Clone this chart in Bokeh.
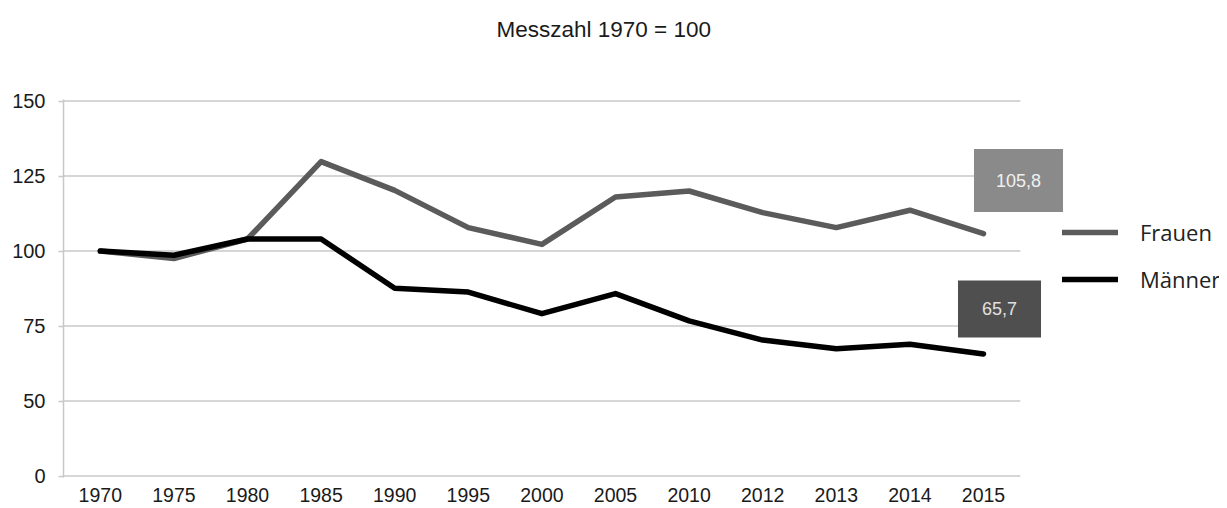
from bokeh.plotting import figure
from bokeh.models import Range1d, FixedTicker, Legend, LegendItem, ColumnDataSource, Title
from bokeh.embed import file_html
from bokeh.resources import INLINE
from bokeh.core.properties import value

# ---- data ----
years = ["1970", "1975", "1980", "1985", "1990", "1995", "2000",
         "2005", "2010", "2012", "2013", "2014", "2015"]
frauen = [100.0, 97.5, 104.0, 129.8, 120.2, 107.8, 102.2,
          118.0, 120.0, 112.8, 107.8, 113.6, 105.8]
maenner = [100.0, 98.6, 104.0, 104.0, 87.6, 86.3, 79.1,
           85.8, 76.7, 70.3, 67.4, 68.9, 65.7]
y_ticks = [25, 50, 75, 100, 125, 150]
y_tick_labels = ["0", "50", "75", "100", "125", "150"]
last_labels = ["105,8", "65,7"]
title_text = "Messzahl 1970 = 100"

xs = list(range(len(years)))
FONT = "Liberation Sans"

p = figure(
    frame_width=1156, frame_height=378,
    min_border_left=63, min_border_right=0, min_border_top=99, min_border_bottom=23,
    x_range=Range1d(-0.5, -0.5 + 1156 / 73.6),
    y_range=Range1d(24.5, 150.5),
    output_backend="svg", toolbar_location=None,
    background_fill_color="white", border_fill_color="white",
)
p.outline_line_color = None
p.grid.visible = False

# spacer between frame and title (empty-looking title)
p.add_layout(Title(text=" ", text_font_size="1px", standoff=37), "above")

# title
p.title.text = title_text
p.title.text_font = FONT
p.title.text_font_size = "22.5px"
p.title.text_font_style = "normal"
p.title.text_color = "#1a1a1a"
p.title.align = "left"
p.title.vertical_align = "top"
p.title.offset = 433
p.title.standoff = 31

# gridlines (incl. baseline)
p.segment(x0=[-0.5] * len(y_ticks), x1=[len(years) - 0.5] * len(y_ticks),
          y0=y_ticks, y1=y_ticks, line_color="#c8c8c8", line_width=1.5)

# axes
ya = p.yaxis[0]
ya.ticker = FixedTicker(ticks=y_ticks)
ya.major_label_overrides = {t: l for t, l in zip(y_ticks, y_tick_labels)}
ya.axis_line_color = "#c8c8c8"
ya.axis_line_width = 1.5
ya.major_tick_line_color = "#c8c8c8"
ya.major_tick_line_width = 1.5
ya.major_tick_out = 5
ya.major_tick_in = 0
ya.minor_tick_line_color = None
ya.major_label_standoff = 13
ya.major_label_text_font = FONT
ya.major_label_text_font_size = "20px"
ya.major_label_text_color = "#1a1a1a"

xa = p.xaxis[0]
xa.ticker = FixedTicker(ticks=xs)
xa.major_label_overrides = {i: y for i, y in zip(xs, years)}
xa.axis_line_color = None
xa.major_tick_line_color = None
xa.minor_tick_line_color = None
xa.major_label_standoff = 4
xa.major_label_text_font = FONT
xa.major_label_text_font_size = "19.5px"
xa.major_label_text_color = "#1a1a1a"

# lines
src = ColumnDataSource(dict(x=xs, f=frauen, m=maenner))
rf = p.line("x", "f", source=src, line_color="#5b5b5b", line_width=5.5,
            line_cap="round", line_join="round")
rm = p.line("x", "m", source=src, line_color="#000000", line_width=5.5,
            line_cap="round", line_join="round")

# value boxes at the last point
last = len(years) - 1
p.text(x=[last], y=[frauen[last]], text=[last_labels[0]],
       x_offset=35, y_offset=-53,
       text_font=value(FONT), text_font_size="18px", text_color="#f0f0f0",
       text_align="center", text_baseline="middle",
       background_fill_color="#8a8a8a", padding=(22, 25))
p.text(x=[last], y=[maenner[last]], text=[last_labels[1]],
       x_offset=16, y_offset=-45,
       text_font=value(FONT), text_font_size="18px", text_color="#e0e0e0",
       text_align="center", text_baseline="middle",
       background_fill_color="#4f4f4f", padding=(24, 22))

legend = Legend(
    items=[LegendItem(label="Frauen", renderers=[rf]),
           LegendItem(label="Männer", renderers=[rm])],
    location=(999, 183), orientation="vertical",
    background_fill_alpha=0, border_line_color=None,
    padding=0, margin=0, spacing=17,
    glyph_width=56, glyph_height=30, label_height=30, label_standoff=22,
    label_text_font="Open Sans", label_text_font_size="22px", label_text_color="#222222",
)
p.add_layout(legend)

open("out.html", "w").write(file_html(p, INLINE))
